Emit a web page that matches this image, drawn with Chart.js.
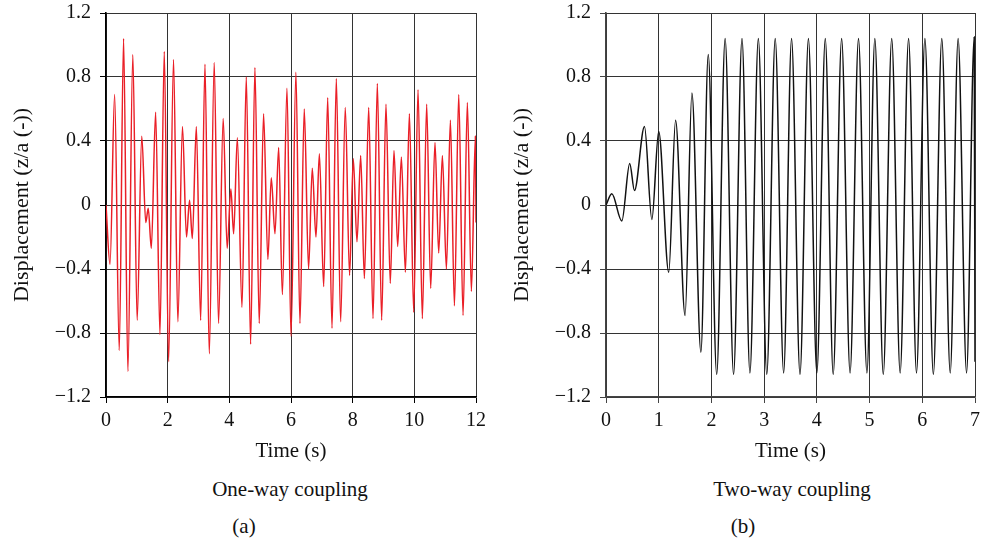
<!DOCTYPE html>
<html>
<head>
<meta charset="utf-8">
<script src="https://cdn.jsdelivr.net/npm/chart.js@4"></script>
<style>
  html, body { margin: 0; padding: 0; background: #fff; }
  body { width: 981px; height: 541px; position: relative; overflow: hidden; font-family: "Liberation Serif", "DejaVu Serif", serif; color: #111; }
  .cv { position: absolute; top: 0; }
  .lbl { position: absolute; font-size: 21px; line-height: 24px; white-space: nowrap; transform: translate(-50%, -50%); }
</style>
</head>
<body>
<canvas id="c1" class="cv" style="left:0px" width="490" height="470"></canvas>
<canvas id="c2" class="cv" style="left:500px" width="481" height="470"></canvas>
<div class="lbl" style="left:290px; top:489px;">One-way coupling</div>
<div class="lbl" style="left:244px; top:526px;">(a)</div>
<div class="lbl" style="left:792px; top:489px;">Two-way coupling</div>
<div class="lbl" style="left:743px; top:526px;">(b)</div>
<script>
// ---- data (extrema of the displacement signals) ----
const oneWayTime = [0, 0.13, 0.28, 0.43, 0.57, 0.71, 0.87, 1.01, 1.16, 1.29, 1.37, 1.47, 1.61, 1.75, 1.89, 2.03, 2.19, 2.33, 2.48, 2.61, 2.71, 2.80, 2.93, 3.07, 3.21, 3.35, 3.51, 3.65, 3.80, 3.93, 4.05, 4.14, 4.26, 4.41, 4.55, 4.69, 4.83, 4.97, 5.11, 5.25, 5.36, 5.48, 5.60, 5.72, 5.87, 6.00, 6.16, 6.29, 6.43, 6.57, 6.69, 6.81, 6.92, 7.06, 7.19, 7.33, 7.47, 7.61, 7.76, 7.90, 8.02, 8.14, 8.26, 8.38, 8.52, 8.66, 8.80, 8.94, 9.08, 9.22, 9.34, 9.46, 9.58, 9.71, 9.84, 9.98, 10.12, 10.26, 10.40, 10.53, 10.67, 10.79, 10.91, 11.04, 11.17, 11.30, 11.44, 11.58, 11.72, 11.85, 11.98, 12.0];
const oneWayDisp = [0, -0.37, 0.69, -0.91, 1.04, -1.04, 0.94, -0.72, 0.43, -0.11, -0.02, -0.27, 0.58, -0.81, 0.96, -0.98, 0.91, -0.73, 0.49, -0.20, 0.03, -0.21, 0.49, -0.72, 0.88, -0.93, 0.89, -0.74, 0.54, -0.27, 0.10, -0.18, 0.42, -0.64, 0.80, -0.87, 0.86, -0.74, 0.57, -0.34, 0.17, -0.18, 0.36, -0.56, 0.73, -0.82, 0.83, -0.74, 0.60, -0.40, 0.23, -0.20, 0.32, -0.51, 0.67, -0.77, 0.79, -0.73, 0.61, -0.44, 0.29, -0.23, 0.31, -0.46, 0.61, -0.71, 0.76, -0.72, 0.63, -0.49, 0.34, -0.26, 0.30, -0.42, 0.57, -0.67, 0.72, -0.71, 0.63, -0.52, 0.39, -0.30, 0.31, -0.40, 0.53, -0.63, 0.69, -0.69, 0.64, -0.54, 0.43, -0.11];

const twoWayTime = [0, 0.11, 0.30, 0.45, 0.54, 0.73, 0.87, 1.00, 1.19, 1.32, 1.50, 1.63, 1.80, 1.94, 2.10, 2.26, 2.42, 2.58, 2.73, 2.89, 3.05, 3.21, 3.37, 3.52, 3.68, 3.84, 4.00, 4.16, 4.31, 4.47, 4.63, 4.79, 4.95, 5.10, 5.26, 5.42, 5.58, 5.74, 5.89, 6.05, 6.21, 6.37, 6.53, 6.68, 6.84, 6.985, 7.0];
const twoWayDisp = [0, 0.07, -0.10, 0.26, 0.09, 0.49, -0.09, 0.46, -0.42, 0.53, -0.69, 0.70, -0.92, 0.94, -1.06, 1.04, -1.06, 1.04, -1.05, 1.04, -1.06, 1.04, -1.05, 1.04, -1.06, 1.04, -1.05, 1.04, -1.06, 1.04, -1.05, 1.04, -1.05, 1.04, -1.06, 1.04, -1.05, 1.04, -1.05, 1.04, -1.06, 1.04, -1.05, 1.04, -1.05, 1.05, -0.98];

const yTickValues = [-1.2, -0.8, -0.4, 0, 0.4, 0.8, 1.2];
const yTickLabels = ["\u22121.2", "\u22120.8", "\u22120.4", "0", "0.4", "0.8", "1.2"];
const xTicksOneWay = [0, 2, 4, 6, 8, 10, 12];
const xTicksTwoWay = [0, 1, 2, 3, 4, 5, 6, 7];

const xTitle = "Time (s)";
const yTitle = "Displacement (z/a (-))";

function makeChart(id, times, disp, xTicks, color, axisColor, rightPad) {
  const pts = times.map((t, i) => ({ x: t, y: disp[i] }));
  const fontFam = "'Liberation Serif', 'DejaVu Serif', serif";
  return new Chart(document.getElementById(id), {
    type: 'line',
    data: { datasets: [{ data: pts, borderColor: color, borderWidth: 1.5, pointRadius: 0, fill: false, cubicInterpolationMode: 'monotone' }] },
    options: {
      responsive: false, animation: false,
      layout: { padding: { left: 0, right: rightPad, top: 13, bottom: 0 } },
      plugins: { legend: { display: false }, tooltip: { enabled: false } },
      scales: {
        x: {
          type: 'linear', min: xTicks[0], max: xTicks[xTicks.length - 1],
          afterBuildTicks: s => { s.ticks = xTicks.map(v => ({ value: v })); },
          afterFit: s => { s.height = 73; s.paddingLeft = 0; s.paddingRight = 0; },
          grid: { color: '#333', lineWidth: 1, tickLength: 6, tickColor: axisColor },
          border: { color: axisColor, width: 1.6 },
          ticks: { color: '#111', font: { family: fontFam, size: 20 }, padding: 6, maxRotation: 0, autoSkip: false,
                   callback: v => String(v) },
          title: { display: true, text: xTitle, color: '#111', font: { family: fontFam, size: 21 }, padding: { top: 0, bottom: 6 } }
        },
        y: {
          type: 'linear', min: -1.2, max: 1.2,
          afterBuildTicks: s => { s.ticks = yTickValues.map(v => ({ value: v })); },
          afterFit: s => { s.width = 106; s.paddingTop = 0; s.paddingBottom = 0; },
          grid: { color: '#333', lineWidth: 1, tickLength: 6, tickColor: axisColor },
          border: { color: axisColor, width: 1.6 },
          ticks: { color: '#111', font: { family: fontFam, size: 20 }, padding: 9, autoSkip: false,
                   callback: (v, i) => yTickLabels[yTickValues.indexOf(Math.round(v * 10) / 10)] },
          title: { display: true, text: yTitle, color: '#111', font: { family: fontFam, size: 22 }, padding: { top: 9, bottom: 0 } }
        }
      }
    }
  });
}

makeChart('c1', oneWayTime, oneWayDisp, xTicksOneWay, '#ea1f27', '#000', 14);
makeChart('c2', twoWayTime, twoWayDisp, xTicksTwoWay, '#111', '#444', 6);
</script>
</body>
</html>
